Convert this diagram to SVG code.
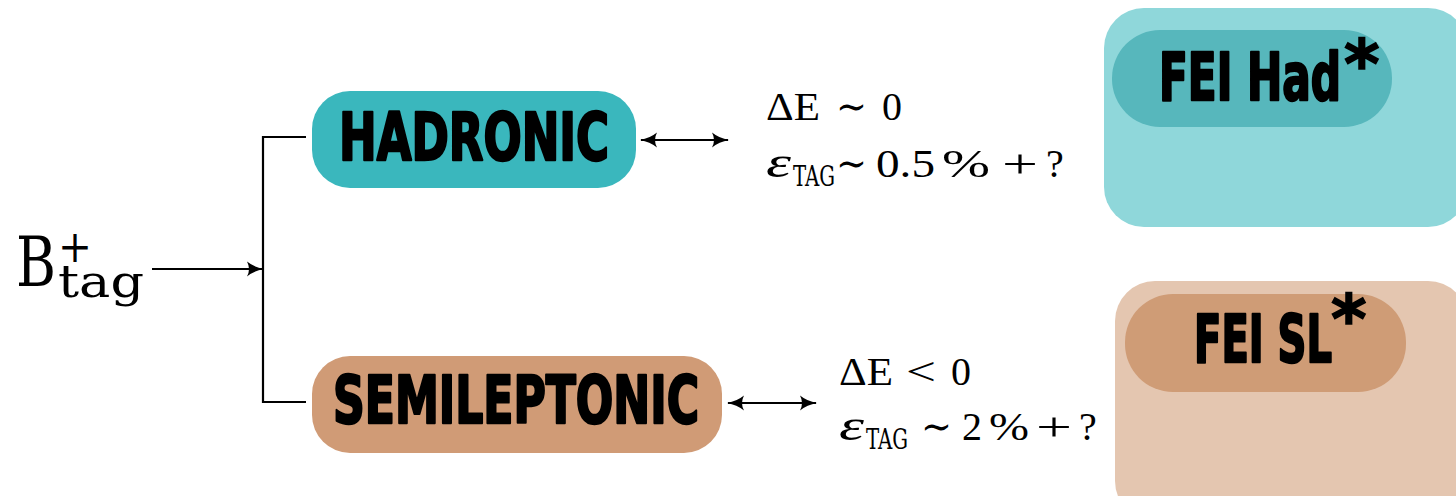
<svg xmlns="http://www.w3.org/2000/svg" width="1456" height="496" viewBox="0 0 1456 496">
<defs>
<style>
.ln{stroke:#000;stroke-width:2.2;fill:none}
.lbl{font-family:"DejaVu Sans Condensed","Liberation Sans Narrow","DejaVu Sans",sans-serif;font-weight:bold;fill:#000;stroke:#000;stroke-width:2.4;stroke-linejoin:round}
.ast{font-family:"DejaVu Sans","Liberation Sans",sans-serif;font-weight:bold;fill:#000;stroke:#000;stroke-width:1.5}
.m{font-family:"Liberation Serif","DejaVu Serif",serif;font-size:40px;fill:#000}
.mi{font-family:"Liberation Serif","DejaVu Serif",serif;font-size:44px;font-style:italic;fill:#000}
.tt{font-family:"DejaVu Serif","Liberation Serif",serif;fill:#000}
.ttc{font-family:"DejaVu Serif Condensed","DejaVu Serif",serif;fill:#000}
</style>
<marker id="ah" viewBox="0 0 18 16" refX="17" refY="8" markerWidth="18" markerHeight="16" markerUnits="userSpaceOnUse" orient="auto-start-reverse">
<path d="M1,0.5 Q8,6.2 18,8 Q8,9.8 1,15.5 Q5,8 1,0.5 Z" fill="#000"/>
</marker>
</defs>

<g id="connectors">
<path class="ln" d="M306,137 H263 V402 H306"/>
<line class="ln" x1="152" y1="269" x2="263" y2="269" marker-end="url(#ah)"/>
<line class="ln" x1="641" y1="140" x2="728" y2="140" marker-start="url(#ah)" marker-end="url(#ah)"/>
<line class="ln" x1="728" y1="403" x2="816" y2="403" marker-start="url(#ah)" marker-end="url(#ah)"/>
</g>

<g id="btag">
<text class="tt" x="16" y="286" font-size="70" textLength="40" lengthAdjust="spacingAndGlyphs">B</text>
<text class="tt" x="58" y="262" font-size="44" textLength="34" lengthAdjust="spacingAndGlyphs">+</text>
<text class="tt" x="58" y="297" font-size="44" textLength="86" lengthAdjust="spacingAndGlyphs">tag</text>
</g>

<g id="hadronic">
<rect x="312" y="91" width="324" height="97" rx="38" fill="#3ab7bd"/>
<text class="lbl" x="339" y="160" font-size="66" textLength="270" lengthAdjust="spacingAndGlyphs">HADRONIC</text>
</g>

<g id="semileptonic">
<rect x="312" y="356" width="410" height="97" rx="38" fill="#d09b76"/>
<text class="lbl" x="333" y="423" font-size="66" textLength="366" lengthAdjust="spacingAndGlyphs">SEMILEPTONIC</text>
</g>

<g id="had-info">
<text class="m" x="766" y="120" textLength="54" lengthAdjust="spacingAndGlyphs">ΔE</text>
<text class="m" x="836" y="120" textLength="31" lengthAdjust="spacingAndGlyphs">∼</text>
<text class="m" x="882" y="120">0</text>
<text class="mi" x="766" y="177" textLength="25" lengthAdjust="spacingAndGlyphs">ε</text>
<text class="ttc" x="793" y="186" font-size="28" textLength="42" lengthAdjust="spacingAndGlyphs">TAG</text>
<text class="m" x="836" y="177" textLength="31" lengthAdjust="spacingAndGlyphs">∼</text>
<text class="m" x="876" y="177" textLength="59" lengthAdjust="spacingAndGlyphs">0.5</text>
<text class="m" x="942" y="177" textLength="48" lengthAdjust="spacingAndGlyphs">%</text>
<text class="m" x="1002" y="177" textLength="36" lengthAdjust="spacingAndGlyphs">+</text>
<text class="m" x="1046" y="177">?</text>
</g>

<g id="sl-info">
<text class="m" x="839" y="385" textLength="54" lengthAdjust="spacingAndGlyphs">ΔE</text>
<text class="m" x="906" y="385" textLength="30" lengthAdjust="spacingAndGlyphs">&lt;</text>
<text class="m" x="951" y="385">0</text>
<text class="mi" x="839" y="440" textLength="25" lengthAdjust="spacingAndGlyphs">ε</text>
<text class="ttc" x="866" y="449" font-size="28" textLength="42" lengthAdjust="spacingAndGlyphs">TAG</text>
<text class="m" x="921" y="440" textLength="31" lengthAdjust="spacingAndGlyphs">∼</text>
<text class="m" x="962" y="440">2</text>
<text class="m" x="989" y="440" textLength="40" lengthAdjust="spacingAndGlyphs">%</text>
<text class="m" x="1036" y="440" textLength="36" lengthAdjust="spacingAndGlyphs">+</text>
<text class="m" x="1079" y="440">?</text>
</g>

<g id="fei-had">
<rect x="1104" y="8" width="364" height="219" rx="40" fill="#8fd7da"/>
<rect x="1112" y="30" width="280" height="97" rx="48" fill="#57b7bc"/>
<text class="lbl" x="1159" y="100" font-size="66" textLength="182" lengthAdjust="spacingAndGlyphs">FEI Had</text>
<text class="ast" x="1344" y="88" font-size="68">*</text>
</g>

<g id="fei-sl">
<rect x="1115" y="281" width="353" height="240" rx="40" fill="#e4c6b0"/>
<rect x="1125" y="294" width="281" height="98" rx="48" fill="#cf9c76"/>
<text class="lbl" x="1194" y="362" font-size="66" textLength="138" lengthAdjust="spacingAndGlyphs">FEI SL</text>
<text class="ast" x="1331" y="343" font-size="68">*</text>
</g>
</svg>
